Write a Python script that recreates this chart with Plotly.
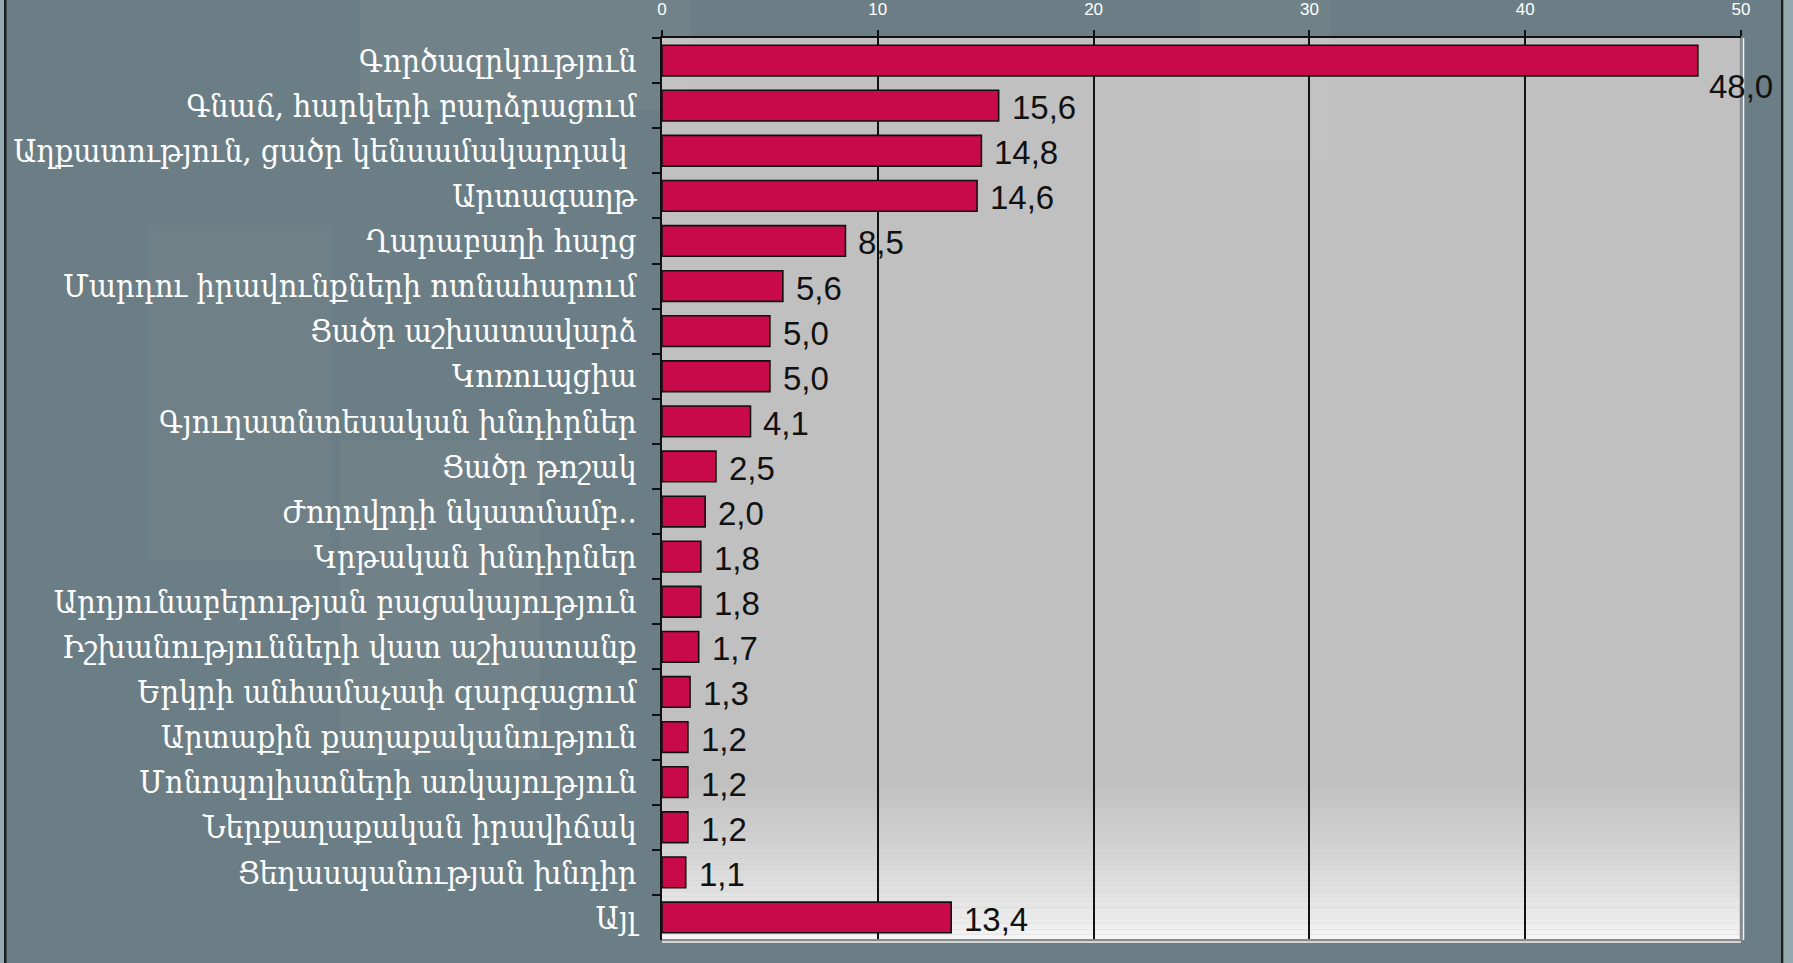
import plotly.graph_objects as go

# Data
categories = [
    "Գործազրկություն",
    "Գնաճ, հարկերի բարձրացում",
    "Աղքատություն, ցածր կենսամակարդակ ",
    "Արտագաղթ",
    "Ղարաբաղի հարց",
    "Մարդու իրավունքների ոտնահարում",
    "Ցածր աշխատավարձ",
    "Կոռուպցիա",
    "Գյուղատնտեսական խնդիրներ",
    "Ցածր թոշակ",
    "Ժողովրդի նկատմամբ..",
    "Կրթական խնդիրներ",
    "Արդյունաբերության բացակայություն",
    "Իշխանությունների վատ աշխատանք",
    "Երկրի անհամաչափ զարգացում",
    "Արտաքին քաղաքականություն",
    "Մոնոպոլիստների առկայություն",
    "Ներքաղաքական իրավիճակ",
    "Ցեղասպանության խնդիր",
    "Այլ",
]
values = [48.0, 15.6, 14.8, 14.6, 8.5, 5.6, 5.0, 5.0, 4.1, 2.5,
          2.0, 1.8, 1.8, 1.7, 1.3, 1.2, 1.2, 1.2, 1.1, 13.4]
x_ticks = [0, 10, 20, 30, 40, 50]

W, H = 1793, 963
ML, MR, MT, MB = 662, 52, 38, 23
PW = W - ML - MR
PH = H - MT - MB

BAR = "#C80A4B"
PAPER = "#6C7E85"

fig = go.Figure(go.Bar(
    x=values, y=categories, orientation="h",
    marker=dict(color=BAR, line=dict(color="#111111", width=1.6)),
    hoverinfo="x+y",
))

# value labels
for cat, v in zip(categories, values):
    big = v == max(values)
    fig.add_annotation(
        x=v, y=cat, text=f"{v:.1f}".replace(".", ","),
        showarrow=False, xanchor="left",
        xshift=9 if big else 11, yshift=-26 if big else -2,
        font=dict(family="Liberation Sans, Arial", size=33, color="#111111"),
    )

shapes = []
# plot background gradient near the bottom
n = 30
band_top = 0.18
for i in range(n):
    t = i / (n - 1)
    c = int(round(245 - (245 - 192) * (t ** 0.8)))
    shapes.append(dict(
        type="rect", xref="x domain", yref="y domain", layer="below",
        x0=0, x1=1, y0=band_top * i / n, y1=band_top * (i + 1) / n,
        fillcolor=f"rgb({c},{c},{c})", line=dict(width=0),
    ))


def px(xp):
    return (xp - ML) / PW


def py(yp):
    return 1 - (yp - MT) / PH


# faint watermark blocks in the paper background
for (x0, y0, x1, y1, op) in [
    (150, 225, 330, 560, 0.025), (340, 440, 540, 760, 0.03),
    (360, 0, 690, 110, 0.04), (1200, 0, 1330, 160, 0.03),
]:
    shapes.append(dict(
        type="rect", xref="paper", yref="paper", layer="below",
        x0=px(x0), x1=px(x1), y0=py(y1), y1=py(y0),
        fillcolor="white", opacity=op, line=dict(width=0),
    ))

# outer frame strips
for (x0, x1, col) in [(0, 4, "#93A9B0"), (4, 6.5, "#1b1f21"),
                      (1781, 1783.5, "#1b1f21"), (1783.5, W, "#93A9B0")]:
    shapes.append(dict(
        type="rect", xref="paper", yref="paper", layer="above",
        x0=px(x0), x1=px(x1), y0=py(H), y1=py(0),
        fillcolor=col, line=dict(width=0),
    ))

# 3D-ish right / bottom border of plot area
shapes += [
    dict(type="line", xref="x domain", yref="y domain", layer="above",
         x0=1, x1=1, y0=0, y1=1, line=dict(color="#8a8a8a", width=2.5)),
    dict(type="line", xref="x domain", yref="y domain", layer="above",
         x0=0, x1=1, y0=0, y1=0, line=dict(color="#8a8a8a", width=2)),
    dict(type="line", xref="x domain", yref="y domain", layer="above",
         ysizemode="pixel", yanchor=0, y0=-2, y1=-2,
         x0=0, x1=1, line=dict(color="#f2f2f2", width=1.5)),
    dict(type="line", xref="x domain", yref="y domain", layer="above",
         xsizemode="pixel", xanchor=1, x0=2.5, x1=2.5,
         y0=0, y1=1, line=dict(color="#f2f2f2", width=1.5)),
]

fig.update_layout(
    width=W, height=H,
    margin=dict(l=ML, r=MR, t=MT, b=MB, pad=0),
    paper_bgcolor=PAPER,
    plot_bgcolor="#C0C0C0",
    bargap=0.32,
    showlegend=False,
    shapes=shapes,
    xaxis=dict(
        side="top", range=[0, 50], tickvals=x_ticks, automargin=False,
        showgrid=True, gridcolor="#111111", gridwidth=1.5,
        zeroline=False, showline=True, linecolor="#111111", linewidth=2,
        ticks="outside", ticklen=6, tickcolor="#111111", tickwidth=1.5,
        ticklabelstandoff=8,
        tickfont=dict(family="Liberation Sans Narrow, Liberation Sans, Arial",
                      size=17, color="white"),
    ),
    yaxis=dict(
        categoryorder="array", categoryarray=categories,
        range=[len(categories) - 0.5, -0.5],
        automargin=False,
        showline=True, linecolor="#111111", linewidth=2,
        ticks="outside", ticklen=8, tickcolor="#111111", tickwidth=2,
        tickson="boundaries", showgrid=False,
        ticklabelstandoff=17,
        tickfont=dict(family="DejaVu Serif Condensed, DejaVu Serif",
                      size=32, color="white"),
    ),
)

fig.write_html("out.html", config={"displayModeBar": False},
               post_script="document.body.style.margin='0';")
